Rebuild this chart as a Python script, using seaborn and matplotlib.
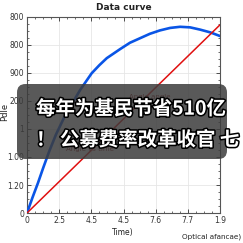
import matplotlib
matplotlib.use("Agg")
import matplotlib.pyplot as plt
import matplotlib.patheffects as pe
from matplotlib.patches import FancyBboxPatch
from matplotlib.ticker import AutoMinorLocator
import seaborn as sns
import pandas as pd

# data (axis units: x tick index, y tick index)
blue_x = [0, 0.17, 0.34, 0.5, 0.69, 0.9, 1.15, 1.4, 1.65, 2.01, 2.25, 2.48, 2.89, 3.2, 3.51,
          3.82, 4.13, 4.45, 4.76, 5.07, 5.38, 5.7, 6.0]
blue_y = [0, 0.55, 1.07, 1.6, 2.2, 2.8, 3.4, 3.9, 4.39, 4.99, 5.28, 5.53, 5.85, 6.08, 6.24,
          6.4, 6.52, 6.61, 6.65, 6.63, 6.55, 6.45, 6.32]
red_x = [0, 6.0]
red_y = [0, 6.72]

x_ticklabels = ["0", "2.5", "4.5", "4.5", "7.6", "7.7", "1.9"]
y_ticklabels = ["0", "1.20", "1.00", "1", "200", "900", "800", "800"]

title = "Data curve"
xlabel = "Time)"
ylabel = "Pdle"
extra_label = "Optical afancae)"
note1 = "Angle angle"
note2 = "Angle vs time"
overlay_line1 = "每年为基民节省510亿"
overlay_line2 = "！ 公募费率改革收官 七"

sns.set_theme(style="whitegrid")
plt.rcParams['font.family'] = ['DejaVu Sans']

fig = plt.figure(figsize=(2.43, 2.43), dpi=100)
ax = fig.add_axes([27/243, 1 - 213/243, (220 - 27)/243, (213 - 17)/243])

df_b = pd.DataFrame({"x": blue_x, "y": blue_y})
df_r = pd.DataFrame({"x": red_x, "y": red_y})
sns.lineplot(data=df_b, x="x", y="y", ax=ax, color="#0a55e6", lw=1.9, sort=False, zorder=3)
sns.lineplot(data=df_r, x="x", y="y", ax=ax, color="#e01010", lw=1.1, sort=False, zorder=3)

ax.set_xlim(0, 6)
ax.set_ylim(0, 7)
ax.set_xticks(range(len(x_ticklabels)))
ax.set_xticklabels(x_ticklabels)
ax.set_yticks(range(len(y_ticklabels)))
ax.set_yticklabels(y_ticklabels)
ax.xaxis.set_minor_locator(AutoMinorLocator(4))
ax.yaxis.set_minor_locator(AutoMinorLocator(4))
ax.tick_params(which="both", direction="in", top=True, right=True, bottom=True, left=True,
               labelsize=5.5, colors="#333333", pad=2)
ax.tick_params(which="major", length=3, width=0.6)
ax.tick_params(which="minor", length=1.5, width=0.5)
ax.grid(True, which="major", color="#e6e6e6", lw=0.6)
ax.set_facecolor("white")
for s in ax.spines.values():
    s.set_visible(True)
    s.set_color("#555555")
    s.set_linewidth(0.8)

ax.set_xlabel("")
ax.set_ylabel("")
fig.text(0.5 * (27 + 220) / 243, 1 - 7/243, title, ha="center", va="center", fontsize=6.5, fontweight="bold", color="#222222")
fig.text(123/243, 1 - 232/243, xlabel, ha="center", va="center", fontsize=5.5, color="#222222")
fig.text(5/243, 1 - 112/243, ylabel, ha="center", va="center", rotation=90, fontsize=6, color="#222222")
fig.text(241/243, 1 - 237/243, extra_label, ha="right", va="center", fontsize=5.2, color="#222222")
fig.text(150/243, 1 - 97/243, note1, ha="center", va="center", fontsize=5, color="#8b1a1a")
fig.text(90/243, 1 - 149/243, note2, ha="center", va="center", fontsize=5, color="#8b1a1a")

box = FancyBboxPatch((17/243, 1 - 159/243), (227 - 17)/243, (159 - 84)/243,
                     boxstyle="round,pad=0,rounding_size=0.035",
                     transform=fig.transFigure, facecolor="#3c3c3c", edgecolor="none",
                     alpha=0.85, zorder=10)
fig.patches.append(box)

cjk = ["Noto Sans CJK SC", "DejaVu Sans"]
stroke = [pe.withStroke(linewidth=2.2, foreground="black")]
fig.text(36/243, 1 - 109/243, overlay_line1, ha="left", va="center", fontsize=14,
         fontweight="bold", family=cjk, color="white", path_effects=stroke, zorder=11)
fig.text(36/243, 1 - 140/243, overlay_line2, ha="left", va="center", fontsize=14,
         fontweight="bold", family=cjk, color="white", path_effects=stroke, zorder=11)

fig.savefig("out.png", dpi=100)
